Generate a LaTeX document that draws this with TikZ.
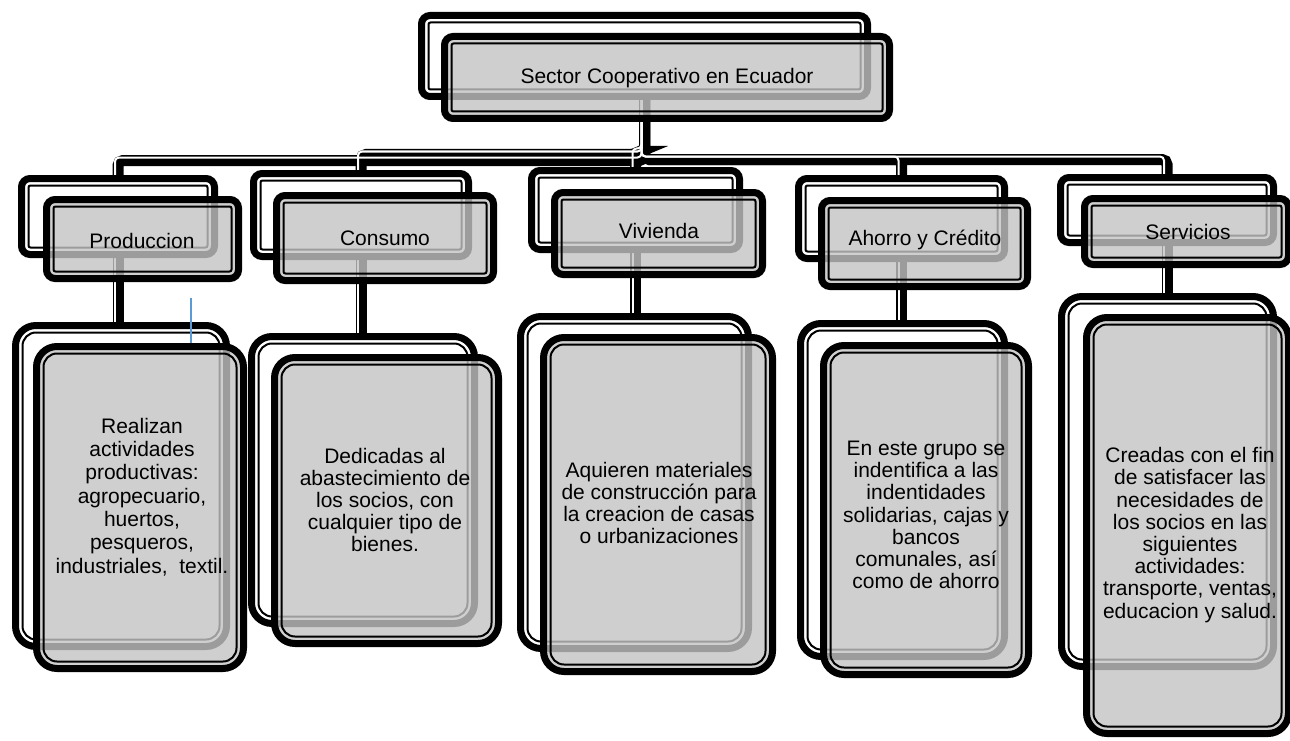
\documentclass[tikz,border=0pt]{standalone}
\usepackage{fontspec}
\setmainfont{Liberation Sans}
\definecolor{boxgray}{gray}{0.77}
\definecolor{strayblue}{HTML}{5B9BD5}
\pgfdeclarelayer{paper}
\pgfdeclarelayer{wires}
\pgfsetlayers{paper,wires,main}
\newcommand\tightlines{\lineskiplimit -50pt\relax}
\tikzset{
  boxframe/.style={draw=black,line width=7pt,inner sep=0pt,outer sep=0pt},
  backfill/.style={fill=white},
  frontfill/.style={fill=boxgray,fill opacity=0.8},
  innerline/.style={draw=black,line width=2pt,inner sep=0pt,outer sep=0pt},
  conn/.style={draw=black,line width=11pt,rounded corners=5pt},
  conncore/.style={draw=white,line width=2pt,rounded corners=4pt,
    transform canvas={shift={(-3pt,3pt)}}},
  lbl/.style={inner sep=0pt,align=center,text=black,
    font={\fontsize{21}{23.3}\selectfont\tightlines}},
  lblbody/.style={lbl,font={\fontsize{21}{22.2}\selectfont\tightlines}},
  stray/.style={draw=strayblue,line width=2pt},
}
% #1 name, #2 fill style, #3..#6 left, top, right, bottom, #7 corner radius
\newcommand\ringbox[7]{%
  \pgfmathsetmacro\bcx{(#3+#5)/2}%
  \pgfmathsetmacro\bcy{(#4+#6)/2}%
  \pgfmathsetmacro\bw{#5-#3-7}%
  \pgfmathsetmacro\bh{#6-#4-7}%
  \pgfmathsetmacro\biw{#5-#3-21}%
  \pgfmathsetmacro\bih{#6-#4-21}%
  \pgfmathsetmacro\bor{#7-3.5}%
  \pgfmathsetmacro\bir{max(#7-10.5,2)}%
  \node[boxframe,#2,minimum width=\bw pt,minimum height=\bh pt,
        rounded corners=\bor pt] (#1) at (\bcx,\bcy) {};
  \node[innerline,minimum width=\biw pt,minimum height=\bih pt,
        rounded corners=\bir pt] (#1-in) at (\bcx,\bcy) {};
}
\begin{document}
\begin{tikzpicture}[x=1pt,y=-1pt]
\begin{pgfonlayer}{paper}
  \fill[white] (0,0) rectangle (1290,741);
\end{pgfonlayer}
\useasboundingbox (0,0) rectangle (1290,741);

% root
\ringbox{top-b}{backfill}{418}{12}{871}{100}{12}
\ringbox{top-f}{frontfill}{441}{33}{893}{122}{12}

% second level
\ringbox{prod-b}{backfill}{18}{175}{218}{258}{12}
\ringbox{prod-f}{frontfill}{43}{196}{242}{282}{12}
\ringbox{cons-b}{backfill}{250}{170}{472}{260}{12}
\ringbox{cons-f}{frontfill}{273}{192}{497}{284}{12}
\ringbox{viv-b}{backfill}{528}{167}{743}{253}{12}
\ringbox{viv-f}{frontfill}{551}{189}{766}{278}{12}
\ringbox{aho-b}{backfill}{795}{175}{1008}{262}{12}
\ringbox{aho-f}{frontfill}{818}{197}{1031}{290}{12}
\ringbox{serv-b}{backfill}{1057}{174}{1277}{246}{12}
\ringbox{serv-f}{frontfill}{1081}{195}{1292}{268}{12}

% third level
\ringbox{prodc-b}{backfill}{12}{322}{230}{650}{24}
\ringbox{prodc-f}{frontfill}{33}{343}{247}{672}{24}
\ringbox{consc-b}{backfill}{248}{333}{478}{627}{24}
\ringbox{consc-f}{frontfill}{271}{354}{502}{647}{24}
\ringbox{vivc-b}{backfill}{517}{313}{752}{652}{24}
\ringbox{vivc-f}{frontfill}{540}{334}{776}{675}{24}
\ringbox{ahoc-b}{backfill}{797}{320}{1008}{660}{24}
\ringbox{ahoc-f}{frontfill}{820}{342}{1032}{678}{24}
\ringbox{servc-b}{backfill}{1058}{293}{1277}{670}{24}
\ringbox{servc-f}{frontfill}{1083}{314}{1292}{737}{24}

% connectors, beneath the boxes; each elbow turns at its own depth
\begin{pgfonlayer}{wires}
  \foreach \c/\d in {prod/64,cons/58,viv/55,aho/63,serv/63}{
    \draw[conn] (top-b.south) -- ++(0,\d) -| (\c-b.north);
    \draw[conn] (\c-b.south) -- (\c-b.south |- \c c-b.north);
  }
  \foreach \c/\d in {prod/64,cons/58,viv/55,aho/63,serv/63}{
    \draw[conncore] (top-b.south) -- ++(0,\d) -| (\c-b.north);
    \draw[conncore] (\c-b.south) -- (\c-b.south |- \c c-b.north);
  }
\end{pgfonlayer}

% labels
\node[lbl] (t-top) at (667,78) {Sector Cooperativo en Ecuador};
\node[lbl] (t-prod) at (142,241) {Produccion};
\node[lbl] (t-cons) at (385,238) {Consumo};
\node[lbl] (t-viv) at (659,231) {Vivienda};
\node[lbl] (t-aho) at (925,240) {Ahorro y Crédito};
\node[lbl] (t-serv) at (1188,232) {Servicios};

\node[lbl] (t-prodc) at (142,497) {Realizan\\actividades\\productivas:\\agropecuario,\\huertos,\\pesqueros,\\industriales,\ \ textil.};
\node[lblbody] (t-consc) at (385,500) {Dedicadas al\\abastecimiento de\\los socios, con\\cualquier tipo de\\bienes.};
\node[lblbody] (t-vivc) at (659,503) {Aquieren materiales\\de construcción para\\la creacion de casas\\o urbanizaciones};
\node[lblbody] (t-ahoc) at (926,515) {En este grupo se\\indentifica a las\\indentidades\\solidarias, cajas y\\bancos\\comunales, así\\como de ahorro};
\node[lblbody] (t-servc) at (1190,535) {Creadas con el fin\\de satisfacer las\\necesidades de\\los socios en las\\siguientes\\actividades:\\transporte, ventas,\\educacion y salud.};

% stray blue stroke
\coordinate (blue-a) at (191,298);
\coordinate (blue-b) at (191,343);
\draw[stray] (blue-a) -- (blue-b);
\end{tikzpicture}
\end{document}
